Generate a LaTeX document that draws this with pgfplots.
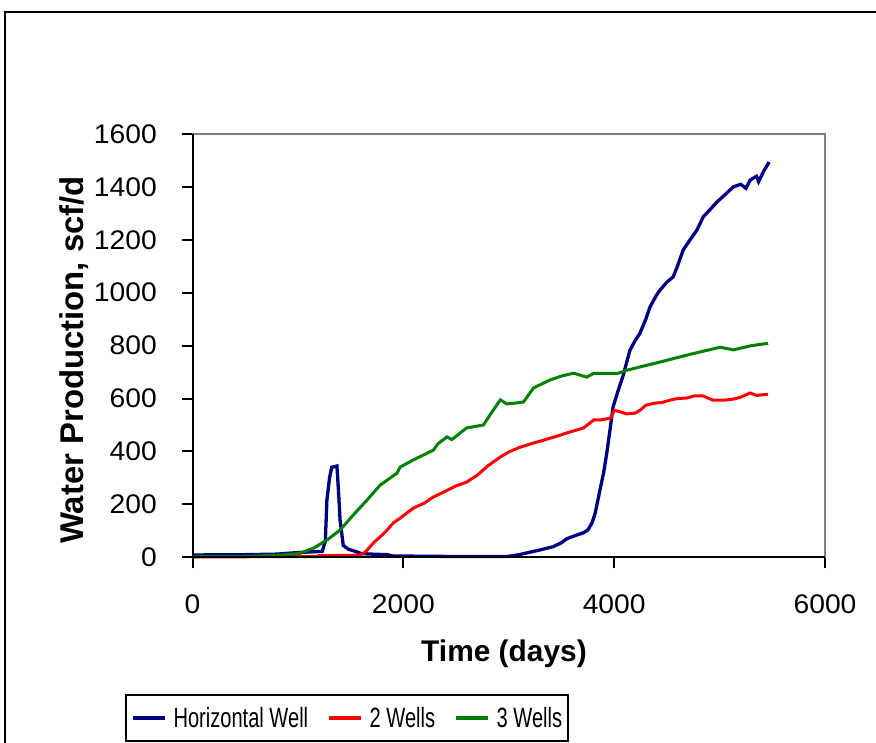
\documentclass[border=0pt]{standalone}
\usepackage{pgfplots}
\pgfplotsset{compat=1.18}
\usepackage{fontspec}
\setmainfont{Liberation Sans}
\usepackage{graphicx}

\definecolor{hwblue}{RGB}{0,0,128}
\definecolor{wred}{RGB}{255,0,0}
\definecolor{wgreen}{RGB}{0,128,0}
\definecolor{framegray}{RGB}{128,128,128}
\newcommand\legtext[1]{\scalebox{0.72}[1]{\fontsize{28}{30}\selectfont #1}}

\begin{document}
\begin{tikzpicture}[x=1bp,y=1bp]
\path[use as bounding box] (0,0) rectangle (876,743);
\draw[line width=2bp] (5,-5) -- (5,731) -- (890,731);
\begin{axis}[
  at={(192.5bp,185.7bp)}, anchor=south west,
  scale only axis, width=632.5bp, height=423.3bp,
  xmin=0, xmax=6000, ymin=0, ymax=1600,
  xtick={0,2000,4000,6000}, ytick={0,200,...,1600},
  xtick pos=bottom, ytick pos=left,
  tick align=outside, major tick length=11bp,
  tick style={black, line width=2bp},
  axis line style={framegray, line width=2bp},
  clip=false,
  /pgf/number format/assume math mode=true,
  /pgf/number format/1000 sep={},
  xticklabel={\scalebox{1.05}[1]{\pgfmathprintnumber{\tick}}},
  yticklabel={\scalebox{1.05}[1]{\pgfmathprintnumber{\tick}}},
  tick label style={font=\fontsize{27}{29}\selectfont, inner sep=0pt},
  xticklabel style={anchor=base, yshift=-45.7bp},
  yticklabel style={anchor=east, xshift=-24.5bp},
  xlabel={Time (days)},
  ylabel={Water Production, scf/d},
  xlabel style={font=\bfseries\fontsize{30}{32}\selectfont, at={(axis description cs:0.4925,-0.2473)}, anchor=base, inner sep=0pt},
  ylabel style={font=\bfseries\fontsize{33}{35}\selectfont, at={(axis description cs:-0.1731,0.4661)}, anchor=base, inner sep=0pt},
  legend columns=3,
  legend style={at={(axis description cs:-0.1067,-0.4363)}, anchor=south west,
    draw=black, line width=2bp, inner xsep=5bp, inner ysep=12bp,
    nodes={inner ysep=0pt, inner xsep=1bp},
    /tikz/every odd column/.append style={column sep=6bp},
    /tikz/every even column/.append style={column sep=18bp}},
  legend image code/.code={\draw[line width=3.5bp] (0bp,0bp) -- (32bp,0bp);},
]
\addplot[hwblue, line width=3.3bp] coordinates {
(0,8) (200,10) (500,10) (800,12) (1000,18) (1100,20) (1230,22) (1260,60)
(1275,216) (1300,300) (1320,340) (1370,345) (1385,250) (1400,140) (1430,45)
(1480,30) (1550,22) (1600,14) (1700,12) (1850,10) (1900,5) (2500,3) (2985,3)
(3100,10) (3230,22) (3300,28) (3420,40) (3500,55) (3550,70) (3650,85) (3705,92)
(3750,103) (3790,130) (3820,167) (3865,254) (3900,320) (3930,394) (3960,480)
(3990,569) (4040,633) (4080,680) (4150,783) (4200,820) (4245,847) (4300,900)
(4340,946) (4400,990) (4435,1010) (4500,1040) (4560,1060) (4600,1100)
(4655,1162) (4720,1200) (4785,1237) (4845,1287) (4900,1310) (4975,1343)
(5050,1370) (5130,1400) (5200,1410) (5250,1395) (5290,1426) (5350,1440)
(5370,1420) (5415,1457) (5470,1494)
};
\addlegendentry{\legtext{Horizontal Well}}
\addplot[wred, line width=3bp] coordinates {
(0,2) (500,2) (1000,3) (1180,3) (1200,6) (1590,8) (1640,20) (1685,40) (1730,60)
(1780,77) (1840,100) (1905,130) (1970,148) (2095,186) (2200,205) (2285,228)
(2400,250) (2500,270) (2600,284) (2700,310) (2800,345) (2920,379) (3000,398)
(3100,415) (3235,432) (3350,445) (3490,462) (3550,470) (3710,489) (3805,519)
(3870,519) (3965,526) (4000,555) (4030,553) (4120,542) (4200,545) (4250,557)
(4300,575) (4375,582) (4450,585) (4530,594) (4600,600) (4690,602) (4760,610)
(4845,610) (4900,600) (4940,594) (5050,594) (5130,598) (5200,605) (5290,621)
(5350,612) (5460,616)
};
\addlegendentry{\legtext{2 Wells}}
\addplot[wgreen, line width=3bp] coordinates {
(0,2) (515,3) (830,8) (1020,15) (1150,35) (1275,65) (1400,103) (1525,160)
(1655,216) (1780,273) (1940,318) (1970,341) (2095,368) (2130,375) (2285,405)
(2330,430) (2415,455) (2460,445) (2600,489) (2760,500) (2820,537) (2920,595)
(2980,580) (3045,582) (3140,587) (3235,640) (3390,670) (3500,685) (3615,696)
(3740,681) (3805,695) (4030,695) (4120,707) (4300,725) (4435,738) (4600,755)
(4750,770) (5005,794) (5130,784) (5290,799) (5460,809)
};
\addlegendentry{\legtext{3 Wells}}
\draw[black, line width=2bp] (rel axis cs:0,1) -- (rel axis cs:0,0) -- (rel axis cs:1,0);
\end{axis}
\end{tikzpicture}
\end{document}
